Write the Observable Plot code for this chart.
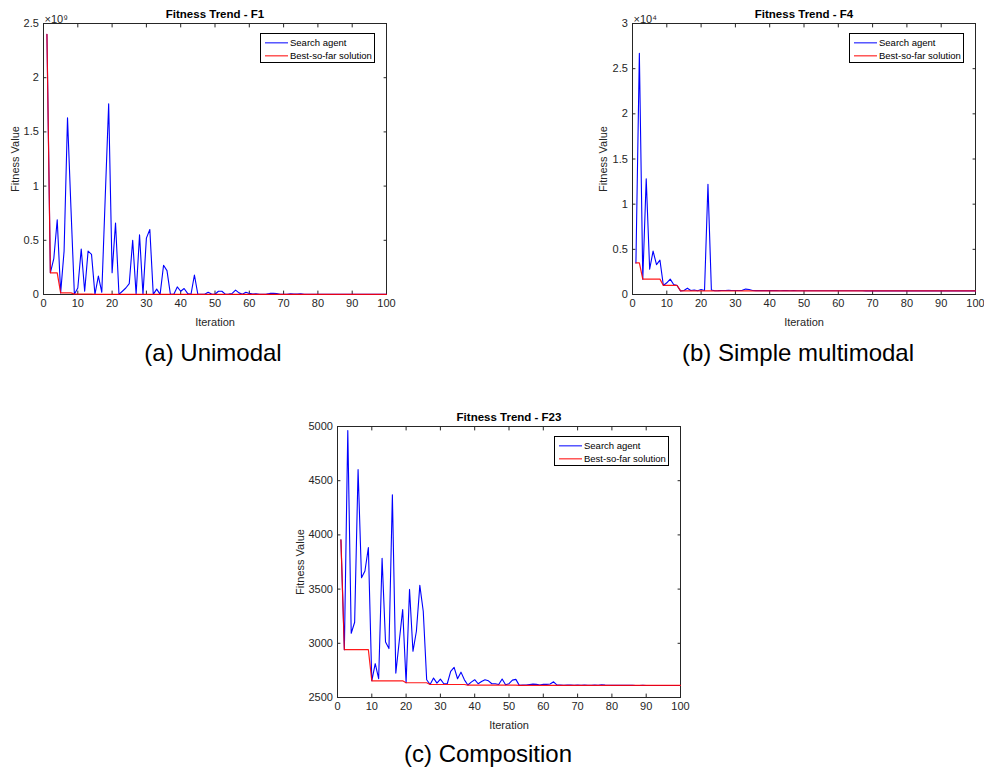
<!DOCTYPE html>
<html><head><meta charset="utf-8">
<script src="https://cdn.jsdelivr.net/npm/d3@7"></script>
<script src="https://cdn.jsdelivr.net/npm/@observablehq/plot@0.6"></script>
<style>
body{margin:0;background:#fff;}
#root{position:relative;width:984px;height:774px;overflow:hidden;font-family:"Liberation Sans",Arial,Helvetica,sans-serif;background:#fff;}
.panel{position:absolute;}
.legend{position:absolute;width:113px;height:28px;border:1px solid #000;background:#fff;font-size:9.5px;color:#000;box-sizing:content-box;}
.legend .sw{position:absolute;left:4px;width:23px;height:1.3px;transform:translateY(-50%);}
.legend .lab{position:absolute;left:29px;white-space:nowrap;line-height:12px;transform:translateY(-50%);}
.caption{position:absolute;font-size:24px;color:#000;transform:translate(-50%,-50%);white-space:nowrap;}
</style></head>
<body><div id="root"></div>
<script>
// ---------------- data ----------------
const ITER = d3.range(1, 101);
const X_TICKS = [0, 10, 20, 30, 40, 50, 60, 70, 80, 90, 100];
const LEGEND_LABELS = ["Search agent", "Best-so-far solution"];
const X_LABEL = "Iteration";
const Y_LABEL = "Fitness Value";

// F1 (values in units of 1e9)
const F1_SEARCH = [
  2.40, 0.20, 0.33, 0.69, 0.015, 0.40, 1.63, 0.80, 0.003, 0.06,
  0.42, 0.03, 0.40, 0.37, 0.001, 0.17, 0.02, 0.90, 1.76, 0.20,
  0.66, 0.001, 0.03, 0.06, 0.10, 0.50, 0.001, 0.55, 0.001, 0.52,
  0.60, 0.001, 0.05, 0.001, 0.27, 0.22, 0.001, 0.002, 0.07, 0.03,
  0.055, 0.01, 0.001, 0.18, 0.001, 0.002, 0.003, 0.02, 0.005, 0.002,
  0.03, 0.03, 0.003, 0.004, 0.01, 0.04, 0.015, 0.002, 0.02, 0.01,
  0.005, 0.006, 0.003, 0.002, 0.004, 0.01, 0.012, 0.008, 0.002, 0.003,
  0.002, 0.006, 0.004, 0.005, 0.006, 0.002, 0.001, 0.002, 0.003, 0.002,
  0.002, 0.001, 0.002, 0.003, 0.001, 0.001, 0.002, 0.001, 0.001, 0.002,
  0.001, 0.001, 0.001, 0.002, 0.001, 0.001, 0.001, 0.001, 0.001, 0.001
];
const F1_BEST = [
  2.40, 0.20, 0.20, 0.20, 0.015, 0.015, 0.015, 0.015, 0.003, 0.003,
  0.003, 0.003, 0.003, 0.003, 0.001, 0.001, 0.001, 0.001, 0.001, 0.001,
  0.001, 0.001, 0.001, 0.001, 0.001, 0.001, 0.001, 0.001, 0.001, 0.001,
  0.001, 0.001, 0.001, 0.001, 0.001, 0.001, 0.001, 0.001, 0.001, 0.001,
  0.001, 0.001, 0.001, 0.001, 0.001, 0.001, 0.001, 0.001, 0.001, 0.001,
  0.001, 0.001, 0.001, 0.001, 0.001, 0.001, 0.001, 0.001, 0.001, 0.001,
  0.001, 0.001, 0.001, 0.001, 0.001, 0.001, 0.001, 0.001, 0.001, 0.001,
  0.001, 0.001, 0.001, 0.001, 0.001, 0.001, 0.001, 0.001, 0.001, 0.001,
  0.001, 0.001, 0.001, 0.001, 0.001, 0.001, 0.001, 0.001, 0.001, 0.001,
  0.001, 0.001, 0.001, 0.001, 0.001, 0.001, 0.001, 0.001, 0.001, 0.001
];
const F1_Y_TICKS = [0, 0.5, 1, 1.5, 2, 2.5];

// F4 (values in units of 1e4)
const F4_SEARCH = [
  0.35, 2.67, 0.17, 1.28, 0.28, 0.48, 0.33, 0.38, 0.10, 0.13,
  0.17, 0.11, 0.10, 0.040, 0.045, 0.070, 0.045, 0.050, 0.042, 0.055,
  0.045, 1.22, 0.050, 0.042, 0.043, 0.045, 0.044, 0.046, 0.045, 0.044,
  0.045, 0.046, 0.060, 0.055, 0.045, 0.043, 0.044, 0.043, 0.043, 0.044,
  0.043, 0.043, 0.042, 0.043, 0.043, 0.042, 0.043, 0.042, 0.042, 0.042,
  0.042, 0.042, 0.042, 0.041, 0.042, 0.041, 0.041, 0.041, 0.041, 0.041,
  0.041, 0.041, 0.041, 0.041, 0.041, 0.041, 0.041, 0.040, 0.041, 0.040,
  0.040, 0.040, 0.040, 0.040, 0.040, 0.040, 0.040, 0.040, 0.040, 0.040,
  0.040, 0.040, 0.040, 0.040, 0.040, 0.040, 0.040, 0.040, 0.040, 0.040,
  0.040, 0.040, 0.040, 0.040, 0.040, 0.040, 0.040, 0.040, 0.040, 0.040
];
const F4_BEST = [
  0.35, 0.35, 0.17, 0.17, 0.17, 0.17, 0.17, 0.17, 0.10, 0.10,
  0.10, 0.10, 0.10, 0.040, 0.040, 0.040, 0.040, 0.040, 0.040, 0.040,
  0.040, 0.040, 0.040, 0.040, 0.040, 0.040, 0.040, 0.040, 0.040, 0.040,
  0.040, 0.040, 0.040, 0.040, 0.040, 0.040, 0.040, 0.040, 0.040, 0.040,
  0.040, 0.040, 0.040, 0.040, 0.040, 0.040, 0.040, 0.040, 0.040, 0.040,
  0.040, 0.040, 0.040, 0.040, 0.040, 0.040, 0.040, 0.040, 0.040, 0.040,
  0.040, 0.040, 0.040, 0.040, 0.040, 0.040, 0.040, 0.040, 0.040, 0.040,
  0.040, 0.040, 0.040, 0.040, 0.040, 0.040, 0.040, 0.040, 0.040, 0.040,
  0.040, 0.040, 0.040, 0.040, 0.040, 0.040, 0.040, 0.040, 0.040, 0.040,
  0.040, 0.040, 0.040, 0.040, 0.040, 0.040, 0.040, 0.040, 0.040, 0.040
];
const F4_Y_TICKS = [0, 0.5, 1, 1.5, 2, 2.5, 3];

// F23
const F23_SEARCH = [
  3954, 2941, 4963, 3093, 3194, 4602, 3605, 3667, 3883, 2654,
  2812, 2673, 3784, 3012, 2951, 4370, 2725, 3019, 3312, 2636,
  3497, 2926, 3111, 3534, 3296, 2664, 2620, 2679, 2633, 2670,
  2627, 2627, 2741, 2778, 2673, 2734, 2663, 2615, 2642, 2664,
  2627, 2648, 2664, 2654, 2627, 2627, 2620, 2670, 2617, 2627,
  2660, 2667, 2612, 2614, 2616, 2620, 2623, 2621, 2615, 2622,
  2621, 2624, 2645, 2614, 2614, 2613, 2615, 2614, 2613, 2614,
  2613, 2614, 2613, 2613, 2614, 2613, 2618, 2614, 2613, 2612,
  2612, 2612, 2613, 2612, 2612, 2612, 2611, 2611, 2612, 2611,
  2611, 2611, 2611, 2611, 2611, 2611, 2611, 2611, 2611, 2611
];
const F23_BEST = [
  3954, 2941, 2941, 2941, 2941, 2941, 2941, 2941, 2941, 2654,
  2654, 2654, 2654, 2654, 2654, 2654, 2654, 2654, 2654, 2636,
  2636, 2636, 2636, 2636, 2636, 2636, 2620, 2620, 2620, 2620,
  2620, 2620, 2620, 2620, 2620, 2620, 2620, 2615, 2615, 2615,
  2615, 2615, 2615, 2615, 2615, 2615, 2615, 2615, 2615, 2615,
  2615, 2615, 2612, 2612, 2612, 2612, 2612, 2612, 2612, 2612,
  2612, 2612, 2612, 2612, 2612, 2612, 2612, 2612, 2612, 2612,
  2612, 2612, 2612, 2612, 2612, 2612, 2612, 2612, 2612, 2612,
  2612, 2612, 2612, 2612, 2612, 2612, 2611, 2611, 2611, 2611,
  2611, 2611, 2611, 2611, 2611, 2611, 2611, 2611, 2611, 2611
];
const F23_Y_TICKS = [2500, 3000, 3500, 4000, 4500, 5000];

const PANELS = [
  {title: "Fitness Trend - F1", search: F1_SEARCH, best: F1_BEST, yDomain: [0, 2.5], yTicks: F1_Y_TICKS, exp: "×10⁹", left: 0, top: 0, caption: "(a) Unimodal", yLabelDx: -28.5},
  {title: "Fitness Trend - F4", search: F4_SEARCH, best: F4_BEST, yDomain: [0, 3], yTicks: F4_Y_TICKS, exp: "×10⁴", left: 589, top: 0, caption: "(b) Simple multimodal", yLabelDx: -29},
  {title: "Fitness Trend - F23", search: F23_SEARCH, best: F23_BEST, yDomain: [2500, 5000], yTicks: F23_Y_TICKS, exp: null, left: 294, top: 403, caption: "(c) Composition", yLabelDx: -37}
];
const CAPTION_POS = [[213, 353], [798, 353], [488, 754]];

// ---------------- drawing ----------------
const W = 394, H = 340, ML = 43, MR = 8, MT = 23, MB = 46;
const AX = "#262626";
const fmt = d => String(d);
const root = document.getElementById("root");

PANELS.forEach((p, k) => {
  const marks = [
    Plot.axisX({anchor: "bottom", ticks: X_TICKS, tickSize: -3.4, tickPadding: 8.4, tickFormat: fmt, label: null, fontSize: 11}),
    Plot.axisX({anchor: "top", ticks: X_TICKS, tickSize: -3.4, tickFormat: () => "", label: null}),
    Plot.axisY({anchor: "left", ticks: p.yTicks, tickSize: -3.4, tickPadding: 8, tickFormat: fmt, label: null, fontSize: 11}),
    Plot.axisY({anchor: "right", ticks: p.yTicks, tickSize: -3.4, tickFormat: () => "", label: null}),
    Plot.frame({stroke: AX, strokeWidth: 1}),
    Plot.lineY(p.search, {x: ITER, stroke: "#0000ff", strokeWidth: 1.1}),
    Plot.lineY(p.best, {x: ITER, stroke: "#ff0000", strokeWidth: 1.2, strokeOpacity: 0.9}),
    Plot.text([p.title], {frameAnchor: "top", lineAnchor: "middle", dy: -9.5, fontWeight: "bold", fontSize: 11.5, fill: "#000"}),
    Plot.text([X_LABEL], {frameAnchor: "bottom", lineAnchor: "middle", dy: 27.5, fontSize: 11, fill: AX}),
    Plot.text([Y_LABEL], {frameAnchor: "left", lineAnchor: "middle", textAnchor: "middle", rotate: -90, dx: p.yLabelDx, fontSize: 11, fill: AX})
  ];
  if (p.exp) marks.push(Plot.text([p.exp], {frameAnchor: "top-left", lineAnchor: "bottom", textAnchor: "start", dx: 1, dy: -1, fontSize: 11, fill: AX}));
  const chart = Plot.plot({
    width: W, height: H,
    marginLeft: ML, marginRight: MR, marginTop: MT, marginBottom: MB,
    style: {fontFamily: "'Liberation Sans', Arial, Helvetica, sans-serif", fontSize: "11px", color: AX, background: "transparent", overflow: "visible"},
    x: {domain: [0, 100]},
    y: {domain: p.yDomain},
    marks
  });
  chart.style.overflow = "visible";
  const div = document.createElement("div");
  div.className = "panel";
  div.style.left = p.left + "px";
  div.style.top = p.top + "px";
  div.style.width = W + "px";
  div.style.height = H + "px";
  div.appendChild(chart);

  // legend (top-right inside the axes box)
  const lg = document.createElement("div");
  lg.className = "legend";
  lg.style.left = (W - MR - 11 - 115) + "px";
  lg.style.top = (MT + 10) + "px";
  [["#0000ff", 9], ["#ff0000", 22]].forEach(([c, y], j) => {
    const sw = document.createElement("div");
    sw.className = "sw"; sw.style.background = c; sw.style.top = y + "px";
    const lab = document.createElement("div");
    lab.className = "lab"; lab.style.top = y + "px"; lab.textContent = LEGEND_LABELS[j];
    lg.appendChild(sw); lg.appendChild(lab);
  });
  div.appendChild(lg);
  root.appendChild(div);

  const cap = document.createElement("div");
  cap.className = "caption";
  cap.style.left = CAPTION_POS[k][0] + "px";
  cap.style.top = CAPTION_POS[k][1] + "px";
  cap.textContent = p.caption;
  root.appendChild(cap);
});
</script>
</body></html>
